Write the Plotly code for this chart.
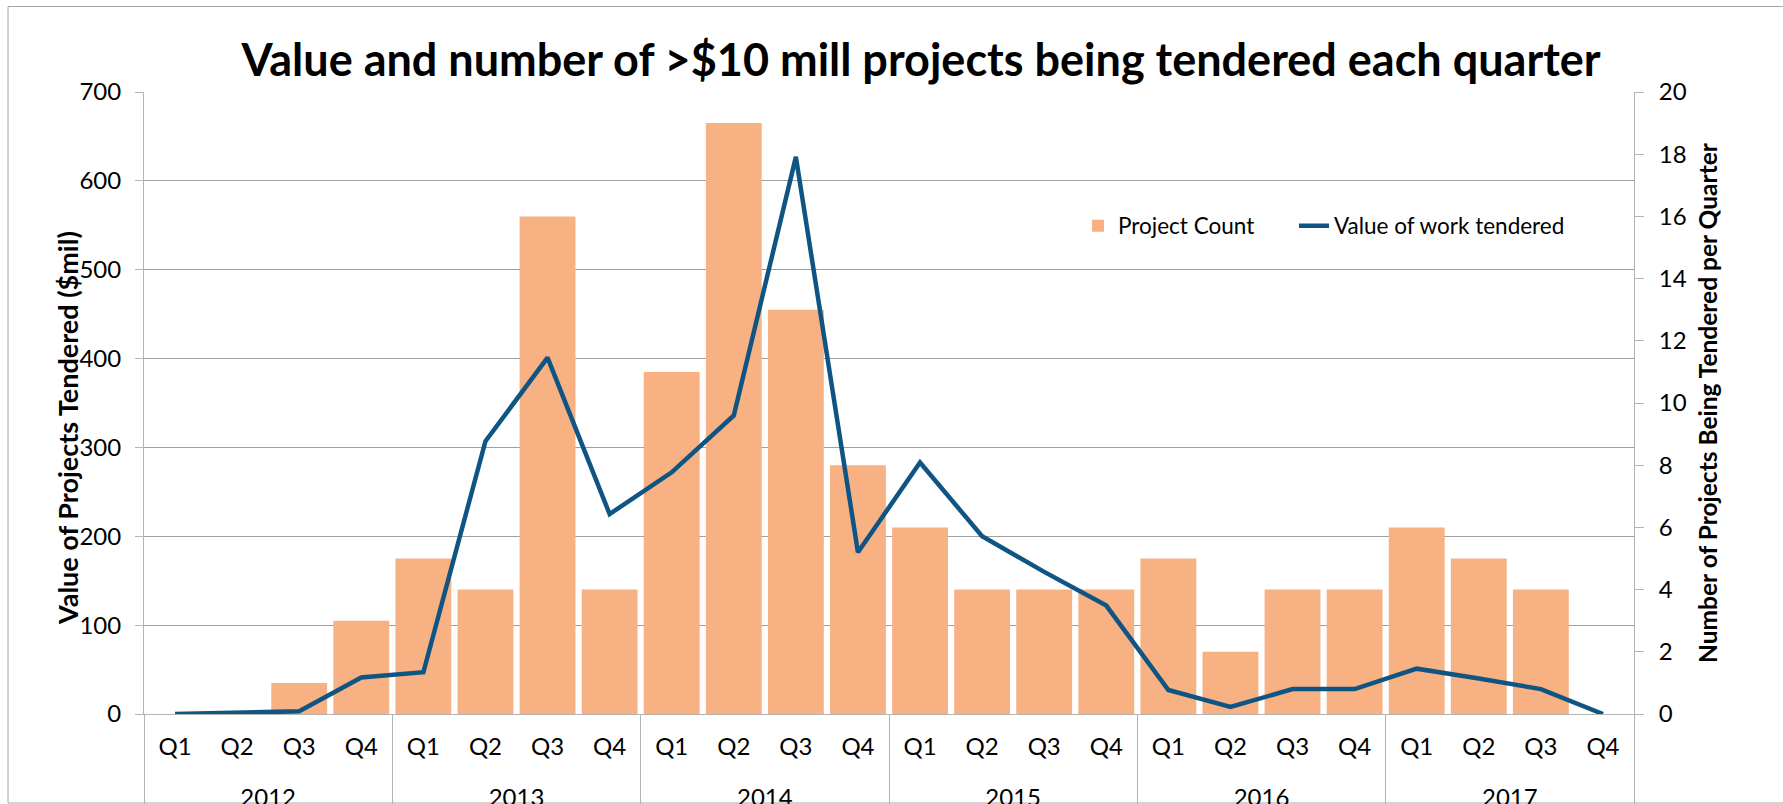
import plotly.graph_objects as go

# ---- data ----
years = ["2012"] * 4 + ["2013"] * 4 + ["2014"] * 4 + ["2015"] * 4 + ["2016"] * 4 + ["2017"] * 4
quarters = ["Q1", "Q2", "Q3", "Q4"] * 6
project_count = [0, 0, 1, 3,
                 5, 4, 16, 4,
                 11, 19, 13, 8,
                 6, 4, 4, 4,
                 5, 2, 4, 4,
                 6, 5, 4, 0]
value_tendered = [0, 1, 3, 41,
                  47, 307, 401, 225,
                  272, 336, 627, 182,
                  283, 200, 160, 122,
                  27, 8, 28, 28,
                  51, 40, 28, 0]

W, H = 1783, 804
L, R, T, B = 144, 1634, 92, 714
FONT = "Lato"
GRID = "#9f9f9f"
AXIS = "#b4b4b4"

# year labels sit one text line lower than the quarter labels (as in the original)
year_labels = ["<br>" + y for y in years]

fig = go.Figure()
fig.add_trace(go.Bar(
    x=[year_labels, quarters], y=project_count, name="Project Count",
    marker=dict(color="#F7B183", line=dict(width=0)), yaxis="y",
    legend="legend",
))
fig.add_trace(go.Scatter(
    x=[year_labels, quarters], y=value_tendered, name="Value of work tendered",
    mode="lines", line=dict(color="#0F5584", width=4.5), yaxis="y2",
    legend="legend2",
))

pw, ph = R - L, B - T
def px_x(x):
    return (x - L) / pw
def px_y(y):
    return (B - y) / ph

legend_common = dict(
    orientation="h", yanchor="middle", xanchor="left",
    font=dict(family=FONT, size=22.5, color="black"),
    bgcolor="rgba(0,0,0,0)",
)

fig.update_layout(
    width=W, height=H,
    margin=dict(l=L, r=W - R, t=T, b=H - B, autoexpand=False),
    paper_bgcolor="white", plot_bgcolor="white",
    font=dict(family=FONT, size=24, color="black"),
    bargap=0.1,
    showlegend=True,
    title=dict(
        text="Value and number of >$10 mill projects being tendered each quarter",
        font=dict(family=FONT, size=45, color="black", weight="bold"),
        x=921 / W, xref="container", xanchor="center",
        y=1 - 60 / H, yref="container", yanchor="middle",
    ),
    legend=dict(x=px_x(1078), y=px_y(226), **legend_common),
    legend2=dict(x=px_x(1294), y=px_y(226), **legend_common),
    xaxis=dict(
        type="multicategory",
        showdividers=True, dividercolor=AXIS, dividerwidth=1,
        showline=True, linecolor=AXIS, linewidth=1,
        showgrid=False, ticks="",
        ticklabelstandoff=11,
        tickfont=dict(family=FONT, size=24, color="black"),
    ),
    yaxis=dict(
        side="right", range=[0, 20], dtick=2,
        showgrid=False, zeroline=False,
        showline=True, linecolor=AXIS, linewidth=1,
        ticks="outside", ticklen=9, tickcolor=AXIS, tickwidth=1,
        ticklabelstandoff=10,
        tickfont=dict(family=FONT, size=24, color="black"),
        title=dict(text="Number of Projects Being Tendered per Quarter",
                   font=dict(family=FONT, size=24.5, color="black", weight="bold"),
                   standoff=14),
    ),
    yaxis2=dict(
        side="left", overlaying="y", range=[0, 700], dtick=100,
        showgrid=True, gridcolor=GRID, gridwidth=1, zeroline=False,
        showline=True, linecolor=AXIS, linewidth=1,
        ticks="outside", ticklen=8, tickcolor=AXIS, tickwidth=1,
        ticklabelstandoff=9,
        tickfont=dict(family=FONT, size=24, color="black"),
    ),
    annotations=[dict(
        text="Value of Projects Tendered ($mil)",
        xref="paper", yref="paper", x=px_x(68), y=px_y(428),
        xanchor="center", yanchor="middle", textangle=-90, showarrow=False,
        font=dict(family=FONT, size=27, color="black", weight="bold"),
    )],
    shapes=[dict(
        type="rect", xref="paper", yref="paper",
        x0=px_x(8), x1=px_x(1830), y0=px_y(803), y1=px_y(6.5),
        line=dict(color="#a6a6a6", width=1), fillcolor="rgba(0,0,0,0)",
        layer="below",
    )],
)

fig.write_html("out.html", config={"displayModeBar": False},
               post_script="document.body.style.margin='0';")
